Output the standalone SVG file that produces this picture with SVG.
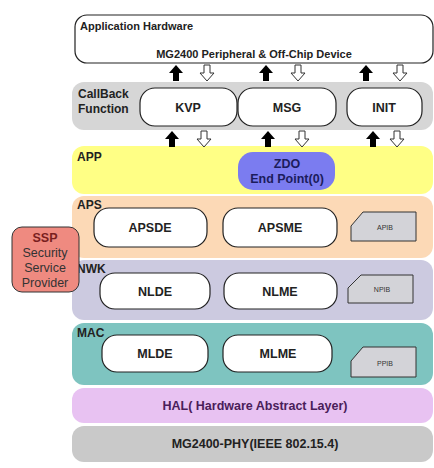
<svg xmlns="http://www.w3.org/2000/svg" width="434" height="468" viewBox="0 0 434 468">
<defs>
<style>
text{font-family:"Liberation Sans",Arial,sans-serif;}
.b{font-weight:bold;}
.lbl{font-size:12px;font-weight:bold;fill:#222;}
.box{fill:#fff;stroke:#222;stroke-width:1.2;}
.pib{fill:#d3d3d8;stroke:#333;stroke-width:1;}
.pt{font-size:7px;fill:#333;text-anchor:middle;}
.bt{font-size:12.5px;font-weight:bold;fill:#222;text-anchor:middle;}
.up{fill:#000;}
.dn{fill:#fff;stroke:#333;stroke-width:1;}
</style>
<path id="upA" d="M0,-8 L7,0 L3,0 L3,8 L-3,8 L-3,0 L-7,0 Z"/>
<path id="dnA" d="M0,8 L7,0 L3,0 L3,-8 L-3,-8 L-3,0 L-7,0 Z"/>
</defs>
<rect width="434" height="468" fill="#fff"/>

<g id="bands">
<rect x="72" y="82" width="361" height="48" rx="12" fill="#d6d6d6"/>
<rect x="72" y="146" width="361" height="48" rx="12" fill="#ffff85"/>
<rect x="72" y="196" width="361" height="62" rx="12" fill="#fcd9b6"/>
<rect x="72" y="260" width="361" height="60" rx="12" fill="#cccae0"/>
<rect x="72" y="323" width="361" height="62" rx="12" fill="#7ec4c0"/>
<rect x="72" y="388" width="361" height="35" rx="12" fill="#e8c2f2"/>
<rect x="72" y="426" width="361" height="36" rx="12" fill="#c9c9c9"/>
</g>

<g id="apphw">
<rect x="75" y="15" width="358" height="48" rx="12" class="box"/>
<text x="80" y="30" font-size="11" class="b" fill="#222">Application Hardware</text>
<text x="254" y="58" font-size="11" class="b" fill="#222" text-anchor="middle">MG2400 Peripheral &amp; Off-Chip Device</text>
</g>

<g id="callback">
<text x="78" y="98" class="lbl">CallBack</text>
<text x="78" y="113" class="lbl">Function</text>
</g>
<g id="kvp"><rect x="140" y="88" width="97" height="38" rx="15" class="box"/><text x="188" y="112" class="bt">KVP</text></g>
<g id="msg"><rect x="238" y="88" width="98" height="38" rx="15" class="box"/><text x="287" y="112" class="bt">MSG</text></g>
<g id="init"><rect x="347" y="88" width="75" height="38" rx="15" class="box"/><text x="384" y="112" class="bt">INIT</text></g>

<g id="app">
<text x="77" y="161" class="lbl">APP</text>
</g>
<g id="zdo">
<rect x="238" y="152" width="97" height="38" rx="15" fill="#7b7cf0"/>
<text x="287" y="168" class="bt" style="fill:#1c1c5c">ZDO</text>
<text x="287" y="183" class="bt" style="fill:#1c1c5c">End Point(0)</text>
</g>

<g id="aps"><text x="77" y="209" class="lbl">APS</text></g>
<g id="apsde"><rect x="94" y="208" width="113" height="39" rx="15" class="box"/><text x="150" y="232" class="bt">APSDE</text></g>
<g id="apsme"><rect x="223" y="208" width="114" height="39" rx="15" class="box"/><text x="280" y="232" class="bt">APSME</text></g>
<g id="apib"><path d="M363,212 L416,212 L416,241 L351,241 L351,226 Z" class="pib"/><text x="385" y="230" class="pt">APIB</text></g>

<g id="nwk"><text x="77" y="273" class="lbl">NWK</text></g>
<g id="nlde"><rect x="100" y="273" width="110" height="36" rx="15" class="box"/><text x="155" y="296" class="bt">NLDE</text></g>
<g id="nlme"><rect x="224" y="273" width="113" height="36" rx="15" class="box"/><text x="280" y="296" class="bt">NLME</text></g>
<g id="npib"><path d="M361,275 L413,275 L413,303 L348,303 L348,288 Z" class="pib"/><text x="382" y="292" class="pt">NPIB</text></g>

<g id="mac"><text x="77" y="337" class="lbl">MAC</text></g>
<g id="mlde"><rect x="102" y="335" width="106" height="37" rx="15" class="box"/><text x="155" y="358" class="bt">MLDE</text></g>
<g id="mlme"><rect x="223" y="335" width="109" height="37" rx="15" class="box"/><text x="278" y="358" class="bt">MLME</text></g>
<g id="ppib"><path d="M363,347 L416,347 L416,377 L351,377 L351,361 Z" class="pib"/><text x="385" y="366" class="pt">PPIB</text></g>

<g id="hal"><text x="255" y="410" font-size="12.5" class="b" fill="#4a1d5a" text-anchor="middle">HAL( Hardware Abstract Layer)</text></g>
<g id="phy"><text x="255" y="448" font-size="12.5" class="b" fill="#222" text-anchor="middle">MG2400-PHY(IEEE 802.15.4)</text></g>

<g id="ssp">
<rect x="12" y="227" width="67" height="65" rx="10" fill="#ef8a80" stroke="#333" stroke-width="1"/>
<text x="45" y="242" font-size="12.5" class="b" fill="#7a1f1f" text-anchor="middle">SSP</text>
<text x="45" y="257" font-size="12.5" fill="#333" text-anchor="middle">Security</text>
<text x="45" y="272" font-size="12.5" fill="#333" text-anchor="middle">Service</text>
<text x="45" y="287" font-size="12.5" fill="#333" text-anchor="middle">Provider</text>
</g>

<g id="connectors">
<use href="#upA" x="176" y="73" class="up"/>
<use href="#dnA" x="207" y="73" class="dn"/>
<use href="#upA" x="266" y="73" class="up"/>
<use href="#dnA" x="298" y="73" class="dn"/>
<use href="#upA" x="366" y="73" class="up"/>
<use href="#dnA" x="400" y="73" class="dn"/>
<use href="#upA" x="172" y="139" class="up"/>
<use href="#dnA" x="204" y="139" class="dn"/>
<use href="#upA" x="268" y="139" class="up"/>
<use href="#dnA" x="302" y="139" class="dn"/>
<use href="#upA" x="373" y="139" class="up"/>
<use href="#dnA" x="397" y="139" class="dn"/>
</g>
</svg>
